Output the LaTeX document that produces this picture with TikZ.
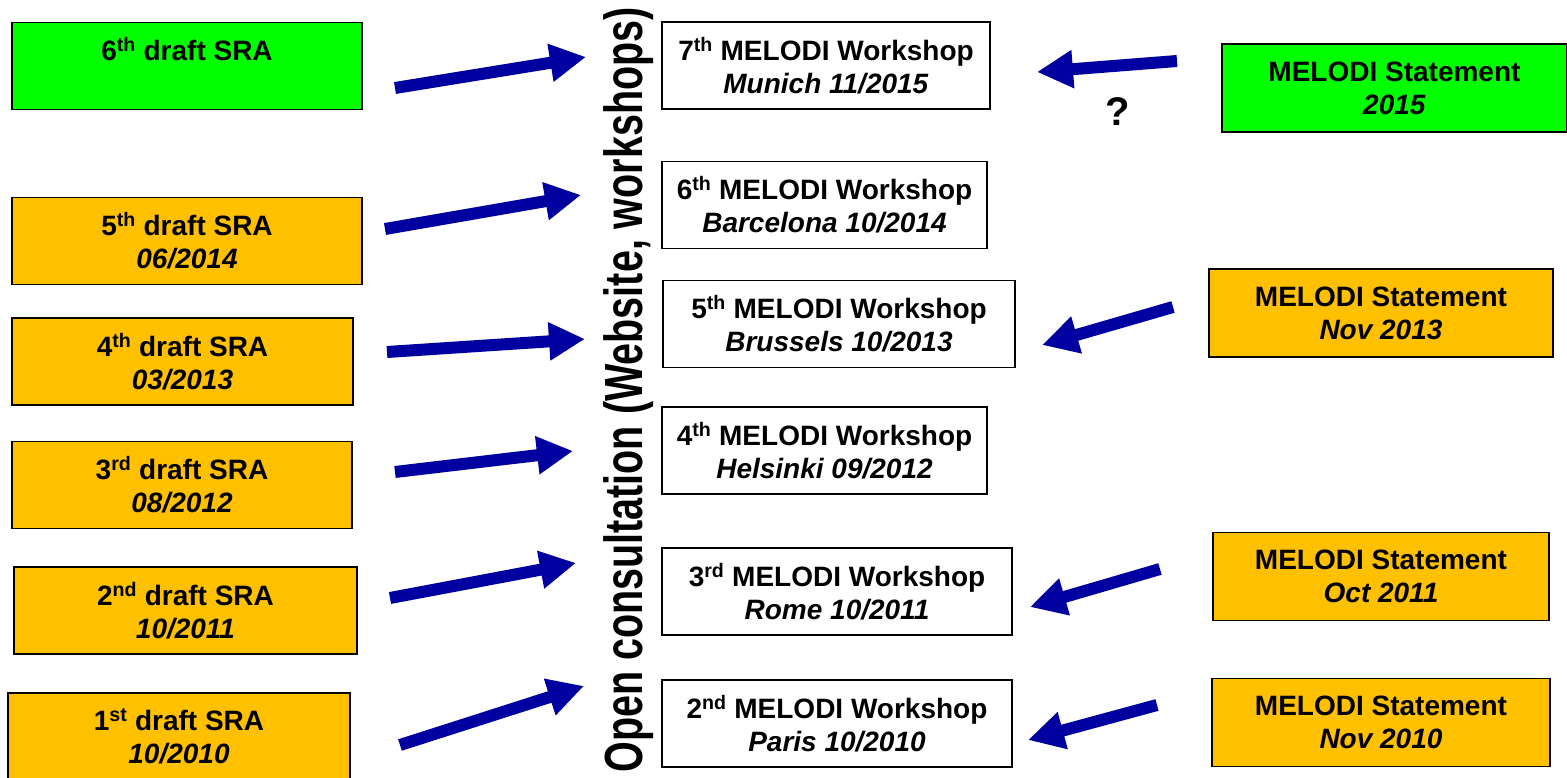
\documentclass[tikz,border=0pt]{standalone}
\usepackage{fontspec}
\setmainfont{Liberation Sans}
\usetikzlibrary{arrows.meta}
\definecolor{sraorange}{RGB}{255,192,0}
\definecolor{newgreen}{RGB}{0,255,0}
\definecolor{arrowblue}{RGB}{0,0,160}
\tikzset{
  every node/.style={
    align=center,
    font=\fontsize{28}{33}\selectfont\bfseries,
  },
  sra/.style={draw, line width=1.6pt, fill=sraorange, minimum height=87pt, inner sep=0pt},
  workshop/.style={draw, line width=1.3pt, fill=white, minimum height=87pt, inner sep=0pt},
  statement/.style={draw, line width=1.6pt, fill=sraorange, minimum height=88pt, inner sep=0pt},
  bigarrow/.style={draw=arrowblue, line width=12pt, -{Triangle[length=36pt,width=36pt]}},
}
\newcommand{\ord}[2]{#1\textsuperscript{#2}}

\begin{document}
\begin{tikzpicture}[x=1pt,y=-1pt]
    \useasboundingbox (0,0) rectangle (1567,778);
    % drafts of the SRA
    \node[sra, fill=newgreen, minimum width=350pt] (sra6) at (187,66) {\ord{6}{th} draft SRA\\\phantom{0}};
    \node[sra, minimum width=350pt] (sra5) at (187,241) {\ord{5}{th} draft SRA\\\textit{06/2014}};
    \node[sra, minimum width=341pt] (sra4) at (182.5,361.5) {\ord{4}{th} draft SRA\\\textit{03/2013}};
    \node[sra, minimum width=340pt] (sra3) at (182,485) {\ord{3}{rd} draft SRA\\\textit{08/2012}};
    \node[sra, minimum width=343pt] (sra2) at (185.5,610.5) {\ord{2}{nd} draft SRA\\\textit{10/2011}};
    \node[sra, minimum width=342pt] (sra1) at (179,736.5) {\ord{1}{st} draft SRA\\\textit{10/2010}};
    % workshops
    \node[workshop, minimum width=328pt] (ws7) at (826,65.5) {\ord{7}{th} MELODI Workshop\\\textit{Munich 11/2015}};
    \node[workshop, minimum width=325pt] (ws6) at (824.5,205) {\ord{6}{th} MELODI Workshop\\\textit{Barcelona 10/2014}};
    \node[workshop, minimum width=352pt] (ws5) at (839,324) {\ord{5}{th} MELODI Workshop\\\textit{Brussels 10/2013}};
    \node[workshop, minimum width=325pt] (ws4) at (824.5,450.5) {\ord{4}{th} MELODI Workshop\\\textit{Helsinki 09/2012}};
    \node[workshop, minimum width=350pt] (ws3) at (837,591.5) {\ord{3}{rd} MELODI Workshop\\\textit{Rome 10/2011}};
    \node[workshop, minimum width=350pt] (ws2) at (837,723.5) {\ord{2}{nd} MELODI Workshop\\\textit{Paris 10/2010}};
    % statements
    \node[statement, fill=newgreen, minimum width=345pt] (st15) at (1394.5,88) {MELODI Statement\\\textit{2015}};
    \node[statement, minimum width=344pt] (st13) at (1381,313) {MELODI Statement\\\textit{Nov 2013}};
    \node[statement, minimum width=336pt] (st11) at (1381,576.5) {MELODI Statement\\\textit{Oct 2011}};
    \node[statement, minimum width=338pt] (st10) at (1381,722.5) {MELODI Statement\\\textit{Nov 2010}};
    % consultation label
    \node[rotate=90, yscale=1.36, anchor=base, inner sep=0pt,
      font=\fontsize{39.5}{44}\selectfont\bfseries] (consult) at (642,390)
      {Open consultation (Website, workshops)};
    \node[font=\fontsize{40}{44}\selectfont\bfseries] (query) at (1118,112) {?};
    % arrows
    \foreach \n/\tx/\ty/\hx/\hy in {1/395/88/586/57, 2/385/229/581/195, 3/387/352/585/339,
        4/395/472/573/451, 5/390/598/576/563, 6/400/745/584/686,
        7/1177/61/1037/72, 8/1173/307/1042/345, 9/1160/569/1030/607, 10/1157/705/1028/740} {
      \coordinate (tail\n) at (\tx,\ty);
      \coordinate (head\n) at (\hx,\hy);
      \draw[bigarrow] (tail\n) -- (head\n);
    }
\end{tikzpicture}
\end{document}
